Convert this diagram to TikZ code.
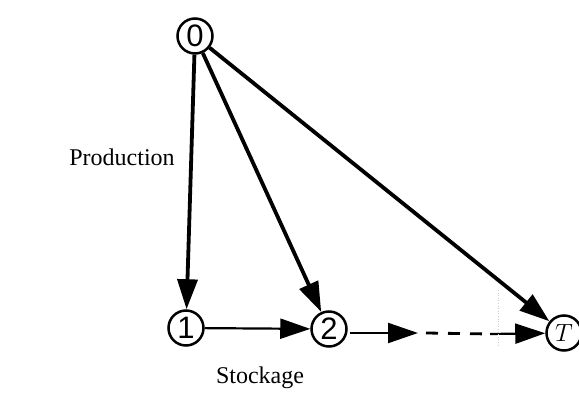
\documentclass[tikz,border=0pt]{standalone}
\usepackage{fontspec}
\setmainfont{Liberation Serif}
\newfontfamily\digitfont{Liberation Sans}
\usetikzlibrary{arrows.meta}
\begin{document}
\begin{tikzpicture}[x=1pt,y=-1pt,
  state/.style={circle,draw,line width=2.5pt,minimum size=35pt,inner sep=0pt,font=\digitfont\fontsize{31}{31}\selectfont},
  bigarrow/.style={line width=3.8pt,-{Triangle[length=30pt,width=20pt]}},
  smallarrow/.style={line width=2.2pt,-{Triangle[length=30pt,width=20pt]}},
  lbl/.style={font=\fontsize{24}{24}\selectfont}]
\useasboundingbox (0,0) rectangle (579,396);
\node[state] (n0) at (195,36) {0};
\node[state] (n1) at (186,328) {1};
\node[state] (n2) at (329,329) {2};
\node[state,font=\fontsize{30}{30}\selectfont] (nT) at (564,333) {$T$};
\coordinate (m1) at (418,333);
\coordinate (m2) at (490,334);
\coordinate (f1) at (498,290);
\coordinate (f2) at (498,347);
\draw[bigarrow] (n0) -- (n1);
\draw[bigarrow] (n0) -- (n2);
\draw[bigarrow] (n0) -- (nT);
\draw[smallarrow] (n1) -- (n2);
\draw[smallarrow,shorten <=2pt] (n2.east |- m1) -- (m1);
\draw[line width=2.8pt,dash pattern=on 12pt off 10pt] (m1) ++(8,0) coordinate (m1b) -- (m2);
\draw[smallarrow] (m2) -- (nT);
\draw[gray!40,line width=0.6pt,dotted] (f1) -- (f2);
\node[lbl] (prod) at (122,157) {Production};
\node[lbl] (stock) at (260,378) {Stockage};
\end{tikzpicture}
\end{document}
